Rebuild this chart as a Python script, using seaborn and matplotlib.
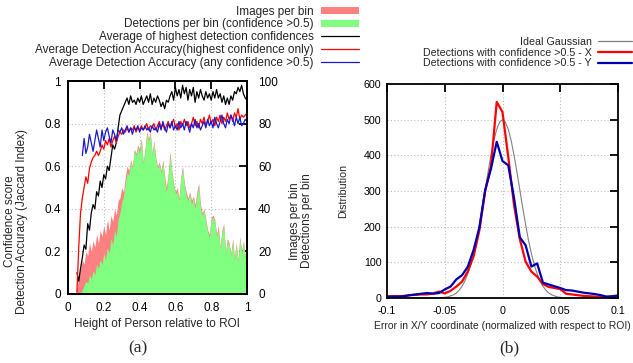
import numpy as np
import pandas as pd
import matplotlib
matplotlib.use("Agg")
import matplotlib.pyplot as plt
import seaborn as sns
from matplotlib.patches import Patch
from matplotlib.lines import Line2D

# ---------------- Panel (a) data ----------------
height_bins = np.round(np.arange(0.04, 1.0001, 0.01), 2)  # 97 bins

images_per_bin = [
    0, 3, 8, 12, 16, 14, 20, 18, 24, 20, 25, 22, 28, 24, 30, 27, 32, 28, 35, 30,
    37, 34, 40, 37, 44, 45, 50, 48, 55, 60, 58, 63, 60, 68, 66, 70, 68, 73, 62, 68,
    76, 73, 76, 66, 72, 64, 60, 62, 58, 63, 55, 50, 57, 67, 58, 52, 48, 50, 45, 55,
    60, 52, 48, 45, 48, 44, 46, 42, 48, 52, 42, 38, 40, 35, 30, 28, 36, 37, 35, 28,
    32, 22, 30, 33, 20, 26, 24, 19, 26, 17, 24, 16, 27, 20, 25, 18, 20]

detections_per_bin = [
    0, 0, 0, 0, 2, 4, 6, 5, 9, 7, 11, 9, 14, 12, 16, 14, 19, 16, 22, 19,
    26, 23, 30, 27, 35, 38, 43, 46, 52, 57, 56, 62, 59, 67, 65, 69, 66, 72, 61, 67,
    75, 72, 75, 65, 71, 63, 59, 61, 57, 62, 53, 48, 56, 65, 57, 51, 47, 48, 44, 54,
    59, 51, 46, 44, 47, 42, 45, 40, 46, 51, 40, 37, 39, 34, 29, 27, 35, 36, 34, 27,
    30, 21, 29, 32, 19, 25, 23, 18, 25, 16, 23, 15, 26, 19, 24, 17, 19]

# lines start at 0.05
avg_highest_conf = [
    0.10, 0.06, 0.12, 0.17, 0.23, 0.21, 0.33, 0.30, 0.38, 0.42, 0.40, 0.48, 0.46, 0.53, 0.50, 0.56,
    0.54, 0.60, 0.58, 0.64, 0.70, 0.68, 0.71, 0.78, 0.84, 0.86, 0.88, 0.90, 0.92, 0.89, 0.93, 0.90,
    0.91, 0.89, 0.92, 0.90, 0.93, 0.89, 0.91, 0.93, 0.90, 0.94, 0.89, 0.92, 0.90, 0.93, 0.91, 0.88,
    0.90, 0.87, 0.91, 0.90, 0.93, 0.95, 0.91, 0.97, 0.93, 0.96, 0.92, 0.98, 0.94, 0.97, 0.91, 0.96,
    0.93, 0.97, 0.90, 0.95, 0.92, 0.96, 0.93, 0.91, 0.95, 0.92, 0.94, 0.91, 0.95, 0.92, 0.96, 0.92,
    0.94, 0.90, 0.93, 0.89, 0.92, 0.89, 0.93, 0.91, 0.95, 0.94, 0.97, 0.95, 0.98, 0.94, 0.92, 0.91]

acc_highest = [
    0.01, 0.22, 0.38, 0.45, 0.50, 0.55, 0.52, 0.59, 0.62, 0.64, 0.65, 0.67, 0.65, 0.67, 0.70, 0.68,
    0.72, 0.70, 0.73, 0.69, 0.72, 0.74, 0.71, 0.74, 0.76, 0.75, 0.77, 0.76, 0.78, 0.76, 0.78, 0.77,
    0.79, 0.76, 0.78, 0.77, 0.79, 0.77, 0.78, 0.80, 0.77, 0.79, 0.78, 0.80, 0.77, 0.79, 0.81, 0.78,
    0.80, 0.77, 0.79, 0.81, 0.78, 0.80, 0.82, 0.78, 0.80, 0.77, 0.81, 0.79, 0.82, 0.79, 0.81, 0.78,
    0.80, 0.83, 0.79, 0.81, 0.78, 0.82, 0.80, 0.83, 0.79, 0.81, 0.84, 0.80, 0.82, 0.79, 0.83, 0.81,
    0.84, 0.80, 0.83, 0.81, 0.85, 0.82, 0.84, 0.81, 0.85, 0.83, 0.87, 0.82, 0.84, 0.83, 0.84, 0.85]

# starts at 0.08
acc_any = [
    0.65, 0.73, 0.66, 0.69, 0.75, 0.71, 0.67, 0.72, 0.77, 0.73, 0.69, 0.77, 0.72, 0.76, 0.78, 0.74,
    0.71, 0.77, 0.75, 0.72, 0.77, 0.76, 0.78, 0.75, 0.77, 0.79, 0.76, 0.78, 0.75, 0.78, 0.77, 0.79,
    0.76, 0.78, 0.77, 0.79, 0.77, 0.78, 0.76, 0.79, 0.77, 0.78, 0.76, 0.80, 0.77, 0.81, 0.78, 0.76,
    0.80, 0.78, 0.81, 0.77, 0.79, 0.77, 0.81, 0.78, 0.80, 0.77, 0.81, 0.79, 0.76, 0.80, 0.78, 0.82,
    0.78, 0.80, 0.77, 0.79, 0.81, 0.78, 0.82, 0.79, 0.81, 0.78, 0.83, 0.80, 0.78, 0.81, 0.84, 0.80,
    0.78, 0.82, 0.80, 0.84, 0.82, 0.79, 0.83, 0.80, 0.83, 0.79, 0.80, 0.82, 0.81]

# ---------------- Panel (b) data ----------------
err_x = np.round(np.arange(-0.1, 0.10001, 0.005), 4)  # 41 bins
dist_x = [4, 5, 5, 6, 8, 9, 10, 10, 13, 18, 13, 20, 32, 46, 75, 117, 190, 300, 370, 550,
          521, 395, 260, 165, 102, 74, 60, 39, 31, 28, 25, 12, 10, 8, 6, 5, 4, 3, 3, 3, 5]
dist_y = [4, 4, 4, 5, 8, 10, 12, 14, 12, 14, 24, 32, 52, 64, 88, 135, 198, 303, 362, 438,
          384, 372, 280, 170, 148, 88, 97, 43, 38, 33, 28, 22, 21, 18, 15, 13, 11, 8, 4, 5, 7]

gauss_x = np.round(np.arange(-0.1, 0.10001, 0.0025), 5)  # 81 points
gauss_y = [0] * 16 + [0, 0, 1, 1, 2, 3, 6, 9, 14, 22, 33, 48, 68, 93, 125, 162, 206, 253, 303, 353,
                      400, 441, 473, 493, 500, 493, 473, 441, 400, 353, 303, 253, 206, 162, 125,
                      93, 68, 48, 33, 22, 14, 9, 6, 3, 2, 1, 1, 0, 0] + [0] * 16

# ---------------- style ----------------
sns.set_style("white")
plt.rcParams['font.family'] = ['Liberation Sans', 'DejaVu Sans']

W, H = 633, 363
fig = plt.figure(figsize=(W / 100, H / 100), dpi=100)


def rect(x0, y0, x1, y1):
    return [x0 / W, 1 - y1 / H, (x1 - x0) / W, (y1 - y0) / H]


RED_FILL = '#ff8080'
GREEN_FILL = '#80ff80'
GRID = dict(ls=(0, (1, 2)), color='#bbbbbb', lw=0.8)
FS_A = 8.5
FS_B = 7.7

# ---- panel (a): bottom axes holds fills + right axis; top axes holds lines
axb = fig.add_axes(rect(68, 81, 247, 294))
axa = fig.add_axes(rect(68, 81, 247, 294))
axa.patch.set_visible(False)

axb.fill_between(height_bins, images_per_bin, 0, color=RED_FILL, lw=0)
axb.fill_between(height_bins, detections_per_bin, 0, color=GREEN_FILL, lw=0)
axb.set_xlim(0, 1)
axb.set_ylim(0, 100)
axb.set_yticks([0, 20, 40, 60, 80, 100])
axb.set_xticks([0, 0.2, 0.4, 0.6, 0.8, 1.0])
axb.grid(True, **GRID)
axb.yaxis.tick_right()
axb.tick_params(axis='y', direction='in', length=6, width=1.3, labelsize=FS_A, pad=8,
                right=True, left=False, colors='black')
axb.tick_params(axis='x', bottom=False, labelbottom=False, top=False)

df_conf = pd.DataFrame({'h': height_bins[1:], 'v': avg_highest_conf})
df_acc = pd.DataFrame({'h': height_bins[1:], 'v': acc_highest})
df_any = pd.DataFrame({'h': height_bins[4:], 'v': acc_any})
sns.lineplot(data=df_conf, x='h', y='v', ax=axa, color='black', lw=0.9, estimator=None, sort=False)
sns.lineplot(data=df_acc, x='h', y='v', ax=axa, color='#ff0000', lw=0.9, estimator=None, sort=False)
sns.lineplot(data=df_any, x='h', y='v', ax=axa, color='#1a1acc', lw=0.9, estimator=None, sort=False)
axa.set_xlim(0, 1)
axa.set_ylim(0, 1)
axa.set_xticks([0, 0.2, 0.4, 0.6, 0.8, 1.0])
axa.set_xticklabels(['0', '0.2', '0.4', '0.6', '0.8', '1'])
axa.set_yticks([0, 0.2, 0.4, 0.6, 0.8, 1.0])
axa.set_yticklabels(['0', '0.2', '0.4', '0.6', '0.8', '1'])
axa.set_xlabel('')
axa.set_ylabel('')
axa.tick_params(axis='both', direction='in', length=6, width=1.3, labelsize=FS_A,
                top=True, right=False, colors='black')
axa.tick_params(axis='x', pad=6)
axa.tick_params(axis='y', pad=5)
for a in (axa, axb):
    for s in a.spines.values():
        s.set_color('black')
        s.set_linewidth(1.3)

fig.text(16 / W, 1 - 221 / H, 'Confidence score\nDetection Accuracy (Jaccard Index)',
         rotation=90, ha='center', va='center', fontsize=FS_A, linespacing=1.05)
fig.text(301 / W, 1 - 221 / H, 'Images per bin\nDetections per bin',
         rotation=90, ha='center', va='center', fontsize=FS_A, linespacing=1.05)
fig.text(157 / W, 1 - 324 / H, 'Height of Person relative to ROI', ha='center', va='center',
         fontsize=FS_A)
fig.text(138 / W, 1 - 348 / H, '(a)', ha='center', va='center', fontsize=12.5,
         family=['Liberation Serif', 'DejaVu Serif'])

handles_a = [Patch(facecolor=RED_FILL, edgecolor='none'),
             Patch(facecolor=GREEN_FILL, edgecolor='none'),
             Line2D([], [], color='black', lw=0.9),
             Line2D([], [], color='#ff0000', lw=0.9),
             Line2D([], [], color='#1a1acc', lw=0.9)]
labels_a = ['Images per bin', 'Detections per bin (confidence >0.5)',
            'Average of highest detection confidences',
            'Average Detection Accuracy(highest confidence only)',
            'Average Detection Accuracy (any confidence >0.5)']
fig.legend(handles_a, labels_a, loc='upper right', bbox_to_anchor=(359 / W, 1 - 5.5 / H),
           frameon=False, fontsize=FS_A, markerfirst=False, handlelength=3.2,
           handletextpad=0.65, labelspacing=0.07, borderpad=0, borderaxespad=0,
           handleheight=0.5)

# ---- panel (b)
ax = fig.add_axes(rect(387, 84, 618, 298))
df_g = pd.DataFrame({'e': gauss_x, 'd': gauss_y})
df_x = pd.DataFrame({'e': err_x, 'd': dist_x})
df_y = pd.DataFrame({'e': err_x, 'd': dist_y})
sns.lineplot(data=df_g, x='e', y='d', ax=ax, color='#808080', lw=0.8, estimator=None, sort=False)
sns.lineplot(data=df_x, x='e', y='d', ax=ax, color='#ff0000', lw=1.6, estimator=None, sort=False)
sns.lineplot(data=df_y, x='e', y='d', ax=ax, color='#0000b0', lw=1.6, estimator=None, sort=False)
ax.set_xlim(-0.1, 0.1)
ax.set_ylim(0, 600)
ax.set_xticks([-0.1, -0.05, 0, 0.05, 0.1])
ax.set_xticklabels(['-0.1', '-0.05', '0', '0.05', '0.1'])
ax.set_yticks([0, 100, 200, 300, 400, 500, 600])
ax.grid(True, **GRID)
ax.set_axisbelow(True)
ax.set_xlabel('')
ax.set_ylabel('')
ax.tick_params(axis='both', direction='in', length=6, width=1.3, labelsize=FS_B,
               top=True, right=True, colors='black')
ax.tick_params(axis='x', pad=6)
ax.tick_params(axis='y', pad=4)
for s in ax.spines.values():
    s.set_color('black')
    s.set_linewidth(1.3)

fig.text(343 / W, 1 - 191 / H, 'Distribution', rotation=90, ha='center', va='center',
         fontsize=FS_B)
fig.text(631 / W, 1 - 326 / H, 'Error in X/Y coordinate (normalized with respect to ROI)',
         ha='right', va='center', fontsize=7.45)
fig.text(509 / W, 1 - 348 / H, '(b)', ha='center', va='center', fontsize=12.5,
         family=['Liberation Serif', 'DejaVu Serif'])

handles_b = [Line2D([], [], color='#808080', lw=0.9),
             Line2D([], [], color='#ff0000', lw=1.6),
             Line2D([], [], color='#0000b0', lw=1.6)]
labels_b = ['Ideal Gaussian', 'Detections with confidence >0.5 - X',
            'Detections with confidence >0.5 - Y']
fig.legend(handles_b, labels_b, loc='upper right', bbox_to_anchor=(632 / W, 1 - 37 / H),
           frameon=False, fontsize=FS_B, markerfirst=False, handlelength=3.2,
           handletextpad=0.55, labelspacing=0.06, borderpad=0, borderaxespad=0)

fig.savefig('out.png', dpi=100, facecolor='white')
